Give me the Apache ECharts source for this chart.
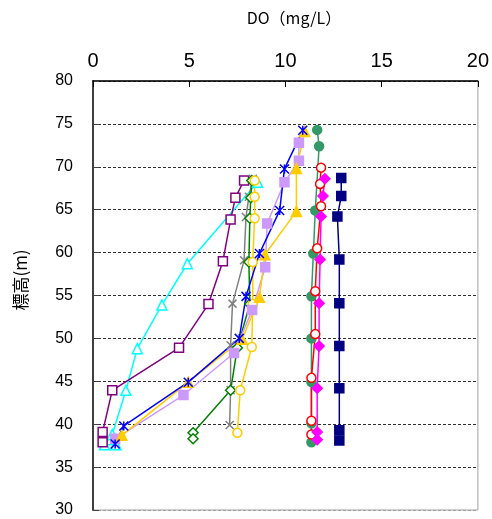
<!DOCTYPE html>
<html>
<head>
<meta charset="utf-8">
<script src="https://cdn.jsdelivr.net/npm/echarts@6/dist/echarts.min.js"></script>
<style>html,body{margin:0;padding:0;background:#fff;}#c{width:492px;height:519px;}</style>
</head>
<body>
<div id="c"></div>
<script>
const xTicks = [0, 5, 10, 15, 20];
const yTicks = [30, 35, 40, 45, 50, 55, 60, 65, 70, 75, 80];
const xTitle = 'DO（mg/L）';
const yTitle = '標高(m)';

const doCyan = [8.55, 4.9, 3.58, 2.3, 1.71, 1.0, 0.6, 1.2];
const elCyan = [68.2, 58.7, 53.9, 48.8, 43.95, 38.8, 37.6, 37.6];

const doPurple = [7.85, 7.4, 7.15, 6.75, 6.0, 4.47, 1.0, 0.5, 0.5];
const elPurple = [68.4, 66.4, 63.85, 59.0, 54.0, 48.9, 43.95, 39.1, 37.9];

const doGray = [8.3, 8.1, 7.95, 7.85, 7.25, 7.15, 7.15, 7.1];
const elGray = [68.6, 66.5, 64.15, 59.1, 54.05, 49.2, 43.95, 39.9];

const doGreenD = [8.25, 8.2, 8.15, 8.1, 8.15, 7.5, 7.15, 5.2, 5.2];
const elGreenD = [68.4, 66.4, 64.0, 58.9, 54.0, 48.9, 43.95, 39.0, 38.3];

const doGoldC = [8.4, 8.4, 8.4, 8.3, 8.3, 8.25, 7.65, 7.5];
const elGoldC = [68.4, 66.5, 64.0, 58.9, 54.0, 49.0, 43.95, 39.0];

const doLilac = [10.7, 10.7, 9.95, 9.05, 8.95, 8.27, 7.33, 4.7, 1.15];
const elLilac = [72.8, 70.7, 68.2, 63.4, 58.3, 53.3, 48.3, 43.4, 38.3];

const doGoldT = [11.0, 10.57, 10.57, 8.93, 8.65, 7.75, 4.95, 1.5];
const elGoldT = [74.1, 69.8, 64.8, 59.75, 54.8, 49.9, 44.9, 38.7];

const doBlue = [10.9, 9.95, 9.7, 8.65, 7.95, 7.6, 4.95, 1.6, 1.15];
const elBlue = [74.25, 69.75, 64.9, 59.9, 54.9, 50.0, 44.9, 39.8, 37.7];

const doSea = [11.65, 11.75, 11.55, 11.45, 11.35, 11.35, 11.35, 11.35, 11.35];
const elSea = [74.3, 72.4, 64.9, 59.9, 54.9, 50.0, 44.9, 40.1, 37.9];

const doRed = [11.85, 11.8, 11.85, 11.65, 11.55, 11.55, 11.35, 11.35, 11.35];
const elRed = [69.9, 68.0, 65.4, 60.5, 55.5, 50.5, 45.4, 40.4, 38.8];

const doMagenta = [12.05, 11.95, 11.85, 11.8, 11.75, 11.75, 11.65, 11.65, 11.65];
const elMagenta = [68.6, 66.6, 64.2, 59.2, 54.1, 49.1, 44.2, 39.1, 38.2];

const doNavy = [12.9, 12.9, 12.7, 12.8, 12.8, 12.8, 12.8, 12.8, 12.8];
const elNavy = [68.7, 66.6, 64.2, 59.2, 54.1, 49.1, 44.2, 39.3, 38.1];

function zip(a, b) { return a.map((v, i) => [v, b[i]]); }

const STAR = 'path://M0,0L10,10M10,0L0,10M5,0L5,10';
const XMARK = 'path://M0,0L10,10M10,0L0,10';

function mk(name, xs, ys, color, symbol, size, open) {
  return {
    name: name, type: 'line', data: zip(xs, ys),
    symbol: symbol, symbolSize: size, showSymbol: true,
    lineStyle: { color: color, width: 1.5 },
    itemStyle: open ? { color: '#ffffff', borderColor: color, borderWidth: 1.5 }
                    : { color: color, borderColor: color, borderWidth: 1.5 },
    animation: false, z: 2
  };
}

const series = [
  mk('cyan', doCyan, elCyan, '#00FFFF', 'triangle', 10, true),
  mk('purple', doPurple, elPurple, '#800080', 'rect', 9, true),
  mk('gray', doGray, elGray, '#808080', XMARK, 8, false),
  mk('greenD', doGreenD, elGreenD, '#008000', 'diamond', 10, true),
  mk('goldC', doGoldC, elGoldC, '#FFCC00', 'circle', 9, true),
  mk('lilac', doLilac, elLilac, '#CC99FF', 'rect', 9, false),
  mk('goldT', doGoldT, elGoldT, '#FFCC00', 'triangle', 10, false),
  mk('blue', doBlue, elBlue, '#0000FF', STAR, 9, false),
  mk('sea', doSea, elSea, '#339966', 'circle', 9, false),
  mk('red', doRed, elRed, '#FF0000', 'circle', 9, true),
  mk('magenta', doMagenta, elMagenta, '#FF00FF', 'diamond', 10, false),
  mk('navy', doNavy, elNavy, '#000080', 'rect', 9, false)
];

const gridColors = yTicks.map((v, i) => i === 0 ? '#a0a0a0' : '#303030');

const chart = echarts.init(document.getElementById('c'), null, { renderer: 'canvas' });
chart.setOption({
  animation: false,
  backgroundColor: '#ffffff',
  grid: { left: 93, right: 8, top: 81, bottom: 9, show: true, borderColor: '#a0a0a0', borderWidth: 1 },
  graphic: [
    { type: 'text', x: 294, y: 18, z: 10,
      style: { text: xTitle, textAlign: 'center', textVerticalAlign: 'middle',
               font: '16px "Noto Sans CJK JP"', fill: '#000' } },
    { type: 'text', x: 21, y: 280, rotation: Math.PI / 2, z: 10,
      style: { text: yTitle, textAlign: 'center', textVerticalAlign: 'middle',
               font: '17px "Noto Sans CJK JP"', fill: '#000' } }
  ],
  xAxis: {
    type: 'value', position: 'top',
    min: xTicks[0], max: xTicks[xTicks.length - 1], interval: 5,
    axisLine: { show: true, lineStyle: { color: '#000', width: 1.5 } },
    axisTick: { show: true, inside: true, length: 6, lineStyle: { color: '#000' } },
    axisLabel: { fontFamily: 'Liberation Sans', fontSize: 20, color: '#000', margin: 10 },
    splitLine: { show: false }
  },
  yAxis: {
    type: 'value', min: yTicks[0], max: yTicks[yTicks.length - 1], interval: 5,
    axisLine: { show: true, lineStyle: { color: '#404040', width: 2 } },
    axisTick: { show: true, inside: true, length: 6, lineStyle: { color: '#404040' } },
    axisLabel: { fontFamily: 'Liberation Sans', fontSize: 16, color: '#000', margin: 20 },
    splitLine: { show: true, lineStyle: { color: gridColors, type: [3, 2], width: 1 } }
  },
  series: series
});
</script>
</body>
</html>
